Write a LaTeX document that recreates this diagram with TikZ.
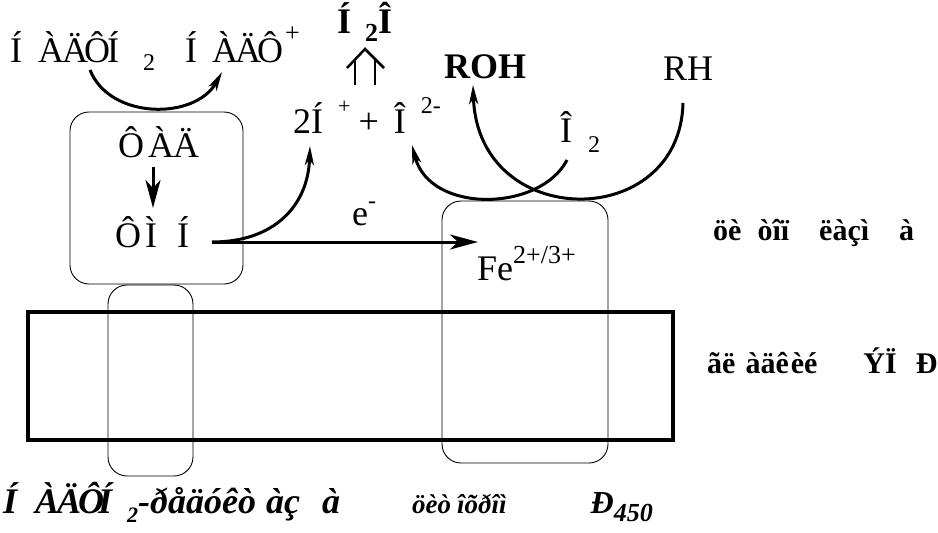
\documentclass[tikz,border=0pt]{standalone}
\usepackage{fontspec}
\setmainfont{Liberation Serif}
\usetikzlibrary{arrows.meta}
\newcommand{\fs}[1]{\fontsize{#1}{#1}\selectfont}
\newcommand{\gl}[2]{\makebox[#1pt][l]{#2}}
\begin{document}
\begin{tikzpicture}[x=1pt,y=-1pt,
  lbl/.style={inner sep=0pt,anchor=base west,font=\fs{36}},
  lblb/.style={lbl,font=\fs{36}\bfseries},
  side/.style={inner sep=0pt,anchor=base west,font=\fs{30}\bfseries},
  bot/.style={inner sep=0pt,anchor=base west,font=\fs{36}\bfseries\itshape},
  box/.style={draw,line width=0.9pt,rounded corners=19pt},
  membrane/.style={draw,line width=3.5pt},
  flow/.style={line width=3pt,-{Stealth[length=19pt,width=9pt,inset=5pt]}},
  bigflow/.style={line width=3pt,-{Stealth[length=28pt,width=15pt,inset=8pt]}}]
\useasboundingbox (0,0) rectangle (938,533);

% boxes
\draw[box] (70,112) rectangle (243,284);
\draw[box] (442,201) rectangle (608,463);
\draw[box] (108,285) rectangle (193,476);
\draw[membrane] (28,312) rectangle (673,440);

% top labels
\node[lbl] (nadph) at (10,62) {\gl{28}{Í}\gl{24}{À}\gl{22}{Ä}\gl{23}{Ô}\gl{36}{Í}\raisebox{-8pt}{\fs{24}2}};
\node[lbl] (nadp) at (185,62) {\gl{27}{Í}\gl{23}{À}\gl{22}{Ä}\gl{28}{Ô}\raisebox{21pt}{\fs{26}+}};
\node[lblb] (h2o) at (337,33) {\gl{28}{Í}\raisebox{-8pt}{\fs{26}2}Î};
\node[lbl] (ions) at (293,133) {2\gl{27}{Í}\raisebox{20pt}{\fs{22}+}\hspace{8pt}+\hspace{15pt}\gl{27}{Î}\raisebox{20pt}{\fs{24}2-}};
\node[lblb] (roh) at (444,78) {ROH};
\node[lbl] (rh) at (663,80) {RH};
\node[lbl] (o2) at (560,142) {\gl{28}{Î}\raisebox{-10pt}{\fs{24}2}};

% left box contents
\node[lbl] (fad) at (118,157) {\gl{30}{Ô}\gl{25}{À}Ä};
\node[lbl] (fmn) at (115,247) {\gl{30}{Ô}\gl{32}{Ì}Í};
\node[lbl] (e) at (352,225) {e\raisebox{17pt}{\fs{24}-}};
\node[lbl] (fe) at (477,280) {Fe\raisebox{17pt}{\fs{26}2+/3+}};

% side labels
\node[side] (cyto) at (713,240) {öè\hspace{16pt}òîï\hspace{30pt}ëàçì\hspace{30pt}à};
\node[side] (er) at (707,373) {ãë\hspace{10pt}àäê\hspace{2pt}è\hspace{0pt}é\hspace{46pt}ÝÏ\hspace{19pt}Ð};

% bottom labels
\node[bot] (red) at (3,513) {\gl{32}{Í}\gl{22}{À}\gl{21}{Ä}\gl{20}{Ô}\gl{29}{Í}\raisebox{-9pt}{\fs{22}2}-ðåäóêò\hspace{10pt}àç\hspace{22pt}à};
\node[bot,font=\fs{27}\bfseries\itshape] (p450) at (412,513) {öèò\hspace{6pt}îõðîì\hspace{84pt}{\fs{32}Ð}\raisebox{-8pt}{\fs{26}450}};

% coordinates for connectors
\coordinate (a1) at (90,70);
\coordinate (a2) at (222,72);
\coordinate (fmnr) at (212,242);
\coordinate (fein) at (478,242);
\coordinate (ionsl) at (310,146);
\coordinate (ionsr) at (412,145);
\coordinate (o2b) at (567,160);
\coordinate (rhb) at (683,103);
\coordinate (rohb) at (473,85);
\coordinate (fadb) at (153,167);
\coordinate (fmnt) at (153,208);

% connectors
\draw[flow] (a1) .. controls (110,120) and (195,120) .. (a2);
\draw[bigflow] (fadb) -- (fmnt);
\draw[bigflow] (fmnr) -- (fein);
\draw[flow] (fmnr) .. controls (275,242) and (308,205) .. (ionsl);
\draw[flow] (o2b) .. controls (540,212) and (430,214) .. (ionsr);
\draw[flow] (rhb) .. controls (680,232) and (478,232) .. (rohb);

% double arrow
\draw[line width=2.5pt] (347,68) -- (365,49) -- (384,68);
\draw[line width=2.5pt] (355,60) -- (355,85);
\draw[line width=2.5pt] (375,60) -- (375,85);
\end{tikzpicture}
\end{document}
